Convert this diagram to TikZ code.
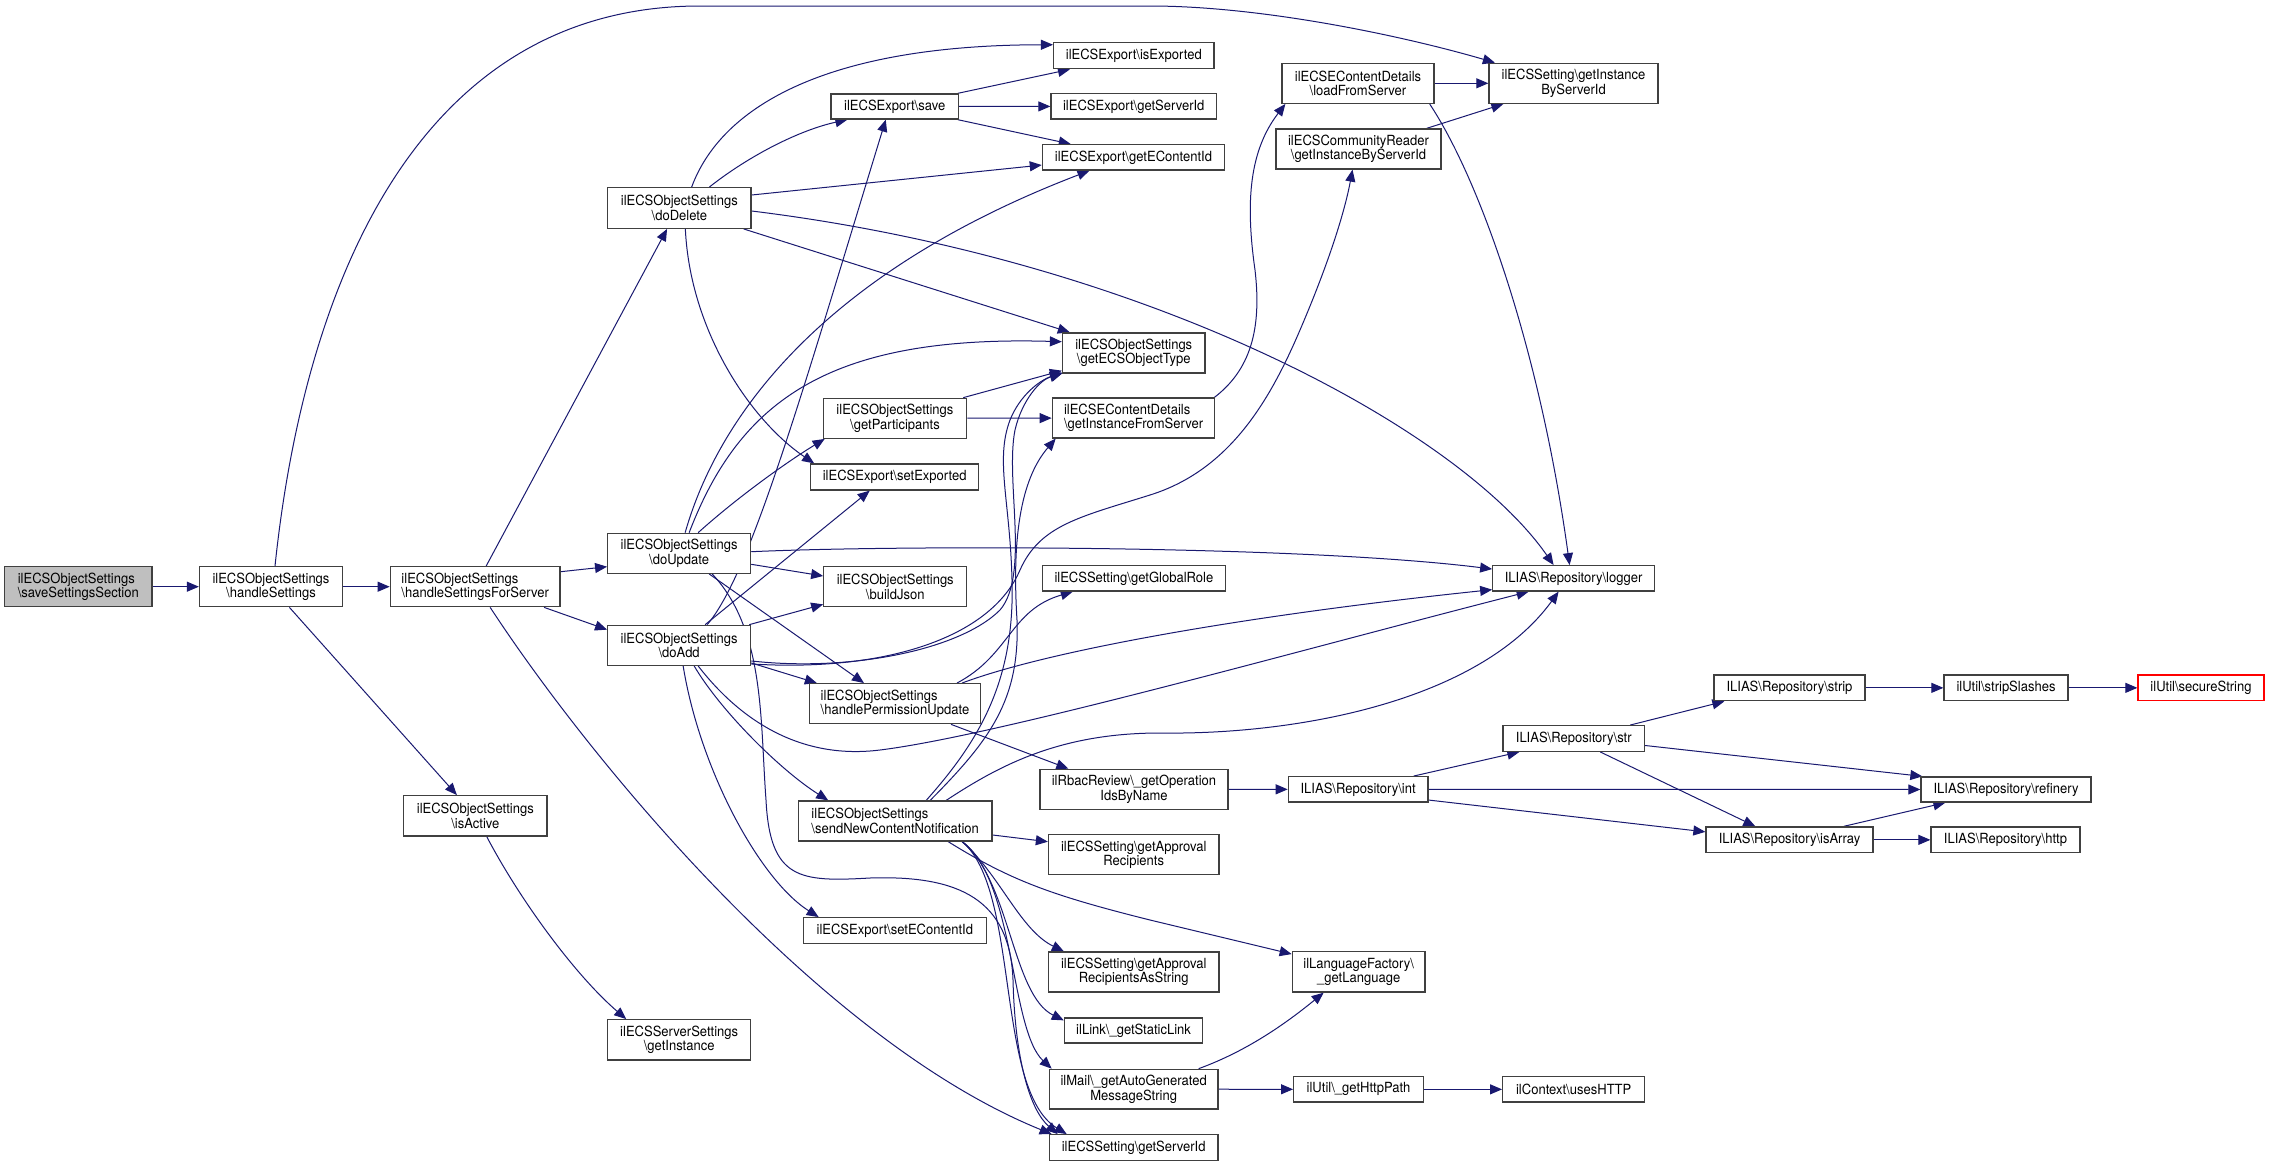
\documentclass[tikz,border=0pt]{standalone}
\usepackage{fontspec}
\setmainfont{TeX Gyre Heros}[FakeStretch=0.93]
\usetikzlibrary{arrows.meta,backgrounds}
\definecolor{edgecol}{HTML}{191970}
\definecolor{boxcol}{HTML}{404040}
\definecolor{rootfill}{HTML}{BFBFBF}
\newcommand\mynode[7][]{%
  \pgfmathsetmacro\bw{#5-#3}%
  \pgfmathsetmacro\bh{#6-#4}%
  \pgfmathsetmacro\cx{(#3+#5)/2}%
  \pgfmathsetmacro\cy{(#4+#6)/2}%
  \node[box,#1,minimum width=\bw pt,minimum height=\bh pt] (#2) at (\cx,\cy) {#7};%
}
\begin{document}
\begin{tikzpicture}[x=1pt,y=-1pt,
  box/.style={draw=boxcol,line width=1.3pt,fill=white,inner sep=0pt,align=center,
    font=\fontsize{14}{14.5}\selectfont},
  edge/.style={draw=edgecol,line width=1pt,-{Triangle[length=12pt,width=10pt]}}]
\useasboundingbox (0,0) rectangle (2269,1167);
% nodes
\mynode[fill=rootfill,align=left]{root}{4.6}{566.7}{152}{606.7}{ilECSObjectSettings\\\textbackslash saveSettingsSection}
\mynode{hs}{199.5}{566.7}{342.5}{606.7}{ilECSObjectSettings\\\textbackslash handleSettings}
\mynode[align=left]{hsfs}{390.3}{566.7}{560}{606.7}{ilECSObjectSettings\\\textbackslash handleSettingsForServer}
\mynode{doDelete}{607.7}{187.7}{751}{228.3}{ilECSObjectSettings\\\textbackslash doDelete}
\mynode{doUpdate}{607.7}{533.3}{750.6}{573.3}{ilECSObjectSettings\\\textbackslash doUpdate}
\mynode{doAdd}{607.7}{625.3}{750.6}{665.3}{ilECSObjectSettings\\\textbackslash doAdd}
\mynode{isActive}{403.7}{795.7}{547}{836}{ilECSObjectSettings\\\textbackslash isActive}
\mynode{getInst}{607.8}{1019.7}{750.6}{1060}{ilECSServerSettings\\\textbackslash getInstance}
\mynode{save}{831}{94}{958.5}{119}{ilECSExport\textbackslash save}
\mynode{isExp}{1053.6}{42.7}{1214}{68.7}{ilECSExport\textbackslash isExported}
\mynode{exSid}{1051}{93.7}{1216.5}{119}{ilECSExport\textbackslash getServerId}
\mynode{getECid}{1042.4}{144.7}{1224.5}{170}{ilECSExport\textbackslash getEContentId}
\mynode{objType}{1062.5}{333}{1205}{373}{ilECSObjectSettings\\\textbackslash getECSObjectType}
\mynode{getPart}{823.3}{398.3}{966.6}{438.3}{ilECSObjectSettings\\\textbackslash getParticipants}
\mynode[align=left]{instFS}{1052.3}{398}{1214.8}{438}{ilECSEContentDetails\\\textbackslash getInstanceFromServer}
\mynode{setExp}{810.8}{464}{978.6}{490}{ilECSExport\textbackslash setExported}
\mynode{buildJson}{823.8}{566.7}{966.7}{606.7}{ilECSObjectSettings\\\textbackslash buildJson}
\mynode[align=left]{hpu}{809.5}{683.7}{980.5}{723.7}{ilECSObjectSettings\\\textbackslash handlePermissionUpdate}
\mynode[align=left]{sendNew}{798.4}{801}{992}{841}{ilECSObjectSettings\\\textbackslash sendNewContentNotification}
\mynode{setECid}{803.3}{917.7}{986.3}{943.3}{ilECSExport\textbackslash setEContentId}
\mynode{loadFS}{1282}{63.3}{1434}{103.3}{ilECSEContentDetails\\\textbackslash loadFromServer}
\mynode{instBSid}{1489}{63.3}{1658}{103.3}{ilECSSetting\textbackslash getInstance\\ByServerId}
\mynode{commR}{1276}{129}{1441}{169}{ilECSCommunityReader\\\textbackslash getInstanceByServerId}
\mynode{logger}{1492.8}{565.7}{1654.4}{591}{ILIAS\textbackslash Repository\textbackslash logger}
\mynode{globRole}{1042.4}{565.7}{1225.4}{591}{ilECSSetting\textbackslash getGlobalRole}
\mynode{rbac}{1040}{769.3}{1228}{809.3}{ilRbacReview\textbackslash \_getOperation\\IdsByName}
\mynode{apprR}{1048.5}{834.7}{1219}{874.5}{ilECSSetting\textbackslash getApproval\\Recipients}
\mynode{apprRS}{1048.5}{952}{1219}{992}{ilECSSetting\textbackslash getApproval\\RecipientsAsString}
\mynode{staticLink}{1064.4}{1018}{1202.8}{1043}{ilLink\textbackslash \_getStaticLink}
\mynode{autoGen}{1049.3}{1069.3}{1218}{1109}{ilMail\textbackslash \_getAutoGenerated\\MessageString}
\mynode{setSid}{1049.3}{1134.7}{1218}{1160.7}{ilECSSetting\textbackslash getServerId}
\mynode{getLang}{1292.3}{951.7}{1425}{992}{ilLanguageFactory\textbackslash \\\_getLanguage}
\mynode{httpPath}{1293.7}{1076.7}{1423.3}{1102}{ilUtil\textbackslash \_getHttpPath}
\mynode{usesHTTP}{1502.7}{1076.7}{1644.7}{1102}{ilContext\textbackslash usesHTTP}
\mynode{int}{1288.3}{776.7}{1428}{802}{ILIAS\textbackslash Repository\textbackslash int}
\mynode{str}{1503}{725.7}{1644.5}{751.3}{ILIAS\textbackslash Repository\textbackslash str}
\mynode{strip}{1714}{675}{1865}{700.7}{ILIAS\textbackslash Repository\textbackslash strip}
\mynode{stripSl}{1944}{675}{2068}{700.7}{ilUtil\textbackslash stripSlashes}
\mynode[draw=red]{secure}{2138}{675}{2264}{700.7}{ilUtil\textbackslash secureString}
\mynode{refinery}{1921}{777}{2091}{802}{ILIAS\textbackslash Repository\textbackslash refinery}
\mynode{isArray}{1706}{827}{1873}{852.7}{ILIAS\textbackslash Repository\textbackslash isArray}
\mynode{http}{1931}{827}{2080}{852.7}{ILIAS\textbackslash Repository\textbackslash http}
\begin{pgfonlayer}{background}
\fill[white] (0,0) rectangle (2269,1167);
% root / handleSettings
\draw[edge] (root) -- (hs);
\draw[edge] (hs) -- (hsfs);
\draw[edge] ([xshift=4pt]hs.north) .. controls (305,280) and (420,6) .. (700,6) -- (1150,6) .. controls (1260,6) and (1400,35) .. ([xshift=6.5pt]instBSid.north west);
\draw[edge] (hs) -- (isActive);
\draw[edge] ([xshift=11.4pt]isActive.south) .. controls (520,900) and (575,975) .. ([xshift=19pt]getInst.north west);
% handleSettingsForServer
\draw[edge] ([xshift=11pt]hsfs.north) -- ([xshift=-12.3pt]doDelete.south);
\draw[edge] ([yshift=15pt]hsfs.east) -- ([yshift=-13.4pt]doUpdate.west);
\draw[edge] ([xshift=-16.6pt]hsfs.south east) -- ([yshift=-5pt]doAdd.north west);
\draw[edge] ([xshift=15pt]hsfs.south) .. controls (590,760) and (820,1040) .. ([xshift=3pt]setSid.north west);
% doDelete
\draw[edge] ([xshift=12.3pt]doDelete.north) .. controls (720,110) and (820,45) .. ([yshift=-2.7pt]isExp.north west);
\draw[edge] ([xshift=30pt]doDelete.north) .. controls (750,155) and (800,130) .. ([xshift=17pt]save.south west);
\draw[edge] ([yshift=13pt]doDelete.east) -- ([yshift=-7.7pt]getECid.west);
\draw[edge] ([yshift=-3pt]doDelete.east) .. controls (1150,260) and (1460,430) .. ([xshift=-20pt]logger.north);
\draw[edge] ([xshift=-8pt]doDelete.south east) -- ([xshift=8pt]objType.north west);
\draw[edge] ([xshift=6pt]doDelete.south) .. controls (690,330) and (750,420) .. ([xshift=4pt]setExp.north west);
% save
\draw[edge] ([xshift=-1.5pt]save.north east) -- ([xshift=17pt]isExp.south west);
\draw[edge] (save) -- (exSid);
\draw[edge] ([xshift=-1.5pt]save.south east) -- ([xshift=29pt]getECid.north west);
% doUpdate
\draw[edge] ([xshift=6pt]doUpdate.north) .. controls (720,410) and (830,270) .. ([xshift=-44pt]getECid.south);
\draw[edge] ([xshift=10pt]doUpdate.north) .. controls (740,400) and (830,335) .. ([yshift=11.3pt]objType.west);
\draw[edge] ([xshift=19pt]doUpdate.north) .. controls (740,495) and (790,460) .. ([xshift=2pt]getPart.south west);
\draw[edge] ([yshift=1.6pt]doUpdate.east) .. controls (900,545) and (1300,545) .. ([yshift=9.3pt]logger.west);
\draw[edge] ([yshift=-11pt]doUpdate.east) -- ([yshift=10.7pt]buildJson.west);
\draw[edge] ([xshift=30pt]doUpdate.south) -- ([xshift=-31pt]hpu.north);
\draw[edge] ([xshift=33pt]doUpdate.south) .. controls (765,630) and (760,720) .. (766,800) .. controls (770,880) and (800,882) .. (870,878) .. controls (960,875) and (1010,900) .. (1013,980) .. controls (1015,1060) and (1030,1110) .. ([xshift=9pt]setSid.north west);
% doAdd
\draw[edge] ([xshift=28pt]doAdd.north) .. controls (750,575) and (800,400) .. ([xshift=-9pt]save.south);
\draw[edge] ([xshift=26pt]doAdd.north) -- ([xshift=-25pt]setExp.south);
\draw[edge] ([xshift=-2pt]doAdd.north east) -- ([yshift=3pt]buildJson.south west);
\draw[edge] ([yshift=3pt]doAdd.south east) -- ([xshift=8pt]hpu.north west);
\draw[edge] ([yshift=5pt]doAdd.south east) .. controls (850,672) and (960,650) .. (1000,610) .. controls (1030,575) and (1005,480) .. (1015,430) .. controls (1022,400) and (1040,380) .. (objType.south west);
\draw[edge] ([yshift=2pt]doAdd.south east) .. controls (880,672) and (990,640) .. (1020,570) .. controls (1040,525) and (1080,517) .. (1150,495) .. controls (1230,470) and (1270,400) .. (1300,330) .. controls (1330,260) and (1345,210) .. ([xshift=-6pt]commR.south);
\draw[edge] ([xshift=19pt]doAdd.south) .. controls (740,720) and (800,760) .. (880,750) .. controls (1000,735) and (1300,650) .. ([xshift=-45pt]logger.south);
\draw[edge] ([xshift=15pt]doAdd.south) .. controls (720,710) and (780,770) .. ([xshift=-67pt]sendNew.north);
\draw[edge] ([xshift=4pt]doAdd.south) .. controls (700,770) and (760,880) .. ([xshift=16pt]setECid.north west);
% getParticipants
\draw[edge] ([xshift=-4pt]getPart.north east) -- ([yshift=3pt]objType.south west);
\draw[edge] (getPart) -- (instFS);
% EContentDetails
\draw[edge] ([xshift=-1pt]instFS.north east) .. controls (1250,370) and (1262,330) .. (1255,270) .. controls (1245,200) and (1250,150) .. ([xshift=4pt]loadFS.south west);
\draw[edge] (loadFS) -- (instBSid);
\draw[edge] ([xshift=-5pt]loadFS.south east) .. controls (1480,180) and (1540,350) .. ([xshift=-4pt]logger.north);
\draw[edge] ([xshift=-15pt]commR.north east) -- ([xshift=15pt]instBSid.south west);
% handlePermissionUpdate
\draw[edge] ([xshift=62pt]hpu.north) .. controls (1010,655) and (1010,610) .. ([xshift=31pt]globRole.south west);
\draw[edge] ([xshift=67pt]hpu.north) .. controls (1050,650) and (1250,615) .. ([yshift=2pt]logger.south west);
\draw[edge] ([xshift=56pt]hpu.south) -- ([xshift=29pt]rbac.north west);
% sendNewContentNotification
\draw[edge] ([xshift=31pt]sendNew.north) .. controls (980,740) and (1015,680) .. (1012,580) .. controls (1010,500) and (995,460) .. (1010,420) .. controls (1020,395) and (1040,380) .. ([xshift=1pt,yshift=1pt]objType.south west);
\draw[edge] ([xshift=35pt]sendNew.north) .. controls (990,740) and (1020,700) .. (1017,620) .. controls (1012,540) and (1020,480) .. ([xshift=4pt]instFS.south west);
\draw[edge] ([xshift=51pt]sendNew.north) .. controls (1000,765) and (1060,733) .. (1160,733) .. controls (1300,735) and (1480,700) .. ([xshift=-15pt]logger.south);
\draw[edge] ([yshift=-14pt]sendNew.east) -- ([yshift=12.9pt]apprR.west);
\draw[edge] ([xshift=67pt]sendNew.south) .. controls (1000,875) and (1020,930) .. ([xshift=16pt]apprRS.north west);
\draw[edge] ([xshift=67pt]sendNew.south) .. controls (1010,880) and (1012,995) .. ([yshift=-3pt]staticLink.north west);
\draw[edge] ([xshift=67pt]sendNew.south) .. controls (1015,880) and (1010,1030) .. ([xshift=3pt]autoGen.north west);
\draw[edge] ([xshift=67pt]sendNew.south) .. controls (1020,890) and (995,1090) .. ([xshift=18pt]setSid.north west);
\draw[edge] ([xshift=53pt]sendNew.south) .. controls (1010,880) and (1050,895) .. (1150,920) -- ([yshift=-3pt]getLang.north west);
% right part
\draw[edge] (rbac) -- (int);
\draw[edge] ([xshift=-15pt]int.north east) -- ([xshift=17pt]str.south west);
\draw[edge] (int) -- (refinery);
\draw[edge] ([yshift=-10.7pt]int.east) -- ([yshift=8pt]isArray.west);
\draw[edge] ([xshift=-15pt]str.north east) -- ([xshift=11pt]strip.south west);
\draw[edge] ([yshift=-7pt]str.east) -- ([xshift=2pt]refinery.north west);
\draw[edge] ([xshift=26.5pt]str.south) -- ([xshift=50pt]isArray.north west);
\draw[edge] ([xshift=-30pt]isArray.north east) -- ([xshift=25pt]refinery.south west);
\draw[edge] (isArray) -- (http);
\draw[edge] (strip) -- (stripSl);
\draw[edge] (stripSl) -- (secure);
\draw[edge] ([xshift=-20pt]autoGen.north east) .. controls (1250,1050) and (1290,1020) .. ([xshift=-35pt]getLang.south);
\draw[edge] (autoGen) -- (httpPath);
\draw[edge] (httpPath) -- (usesHTTP);
\end{pgfonlayer}
\end{tikzpicture}
\end{document}
